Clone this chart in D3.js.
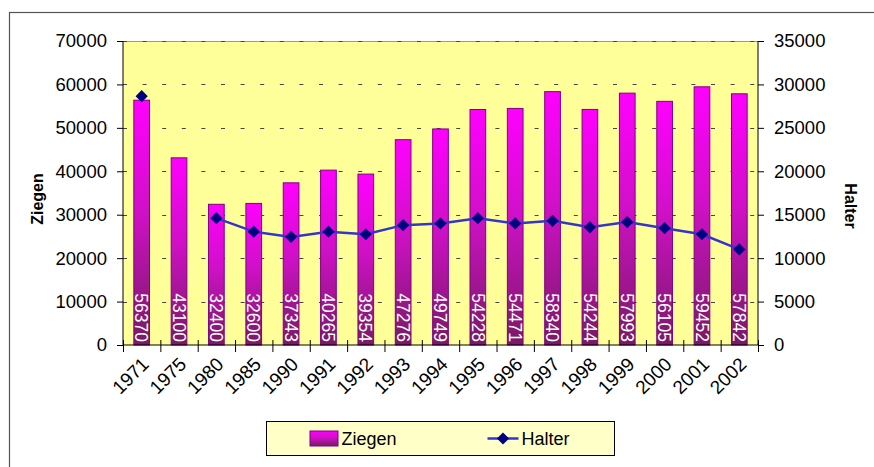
<!DOCTYPE html>
<html>
<head>
<meta charset="utf-8">
<script src="https://cdn.jsdelivr.net/npm/d3@7"></script>
<style>
  body { margin: 0; background: #fff; }
  svg { font-family: "Liberation Sans", Arial, sans-serif; }
</style>
</head>
<body>
<div id="chart"></div>
<script>
// chart data
const years = ["1971", "1975", "1980", "1985", "1990", "1991", "1992", "1993", "1994",
               "1995", "1996", "1997", "1998", "1999", "2000", "2001", "2002"];
const ziegen = [56370, 43100, 32400, 32600, 37343, 40265, 39354, 47276, 49749,
                54228, 54471, 58340, 54244, 57993, 56105, 59452, 57842];
// null = no value for that year
const halter = [28650, null, 14600, 13050, 12450, 13050, 12750, 13800, 14000,
                14600, 14000, 14300, 13550, 14150, 13450, 12750, 11000];
const leftTicks = [0, 10000, 20000, 30000, 40000, 50000, 60000, 70000];
const rightTicks = [0, 5000, 10000, 15000, 20000, 25000, 30000, 35000];

const W = 874, H = 467;
const margin = {top: 41, right: 116, bottom: 122, left: 123};
const width = W - margin.left - margin.right;
const height = H - margin.top - margin.bottom;

const svg = d3.select("#chart").append("svg")
    .attr("width", W)
    .attr("height", H);

const defs = svg.append("defs");
const grad = defs.append("linearGradient")
    .attr("id", "barGrad")
    .attr("x1", 0).attr("y1", 0).attr("x2", 0).attr("y2", 1);
grad.append("stop").attr("offset", "0%").attr("stop-color", "#ff00ff");
grad.append("stop").attr("offset", "45%").attr("stop-color", "#d010c8");
grad.append("stop").attr("offset", "100%").attr("stop-color", "#781a64");

// outer frame (open to right/bottom like the original crop)
svg.append("rect")
    .attr("x", 9.5).attr("y", 12.5)
    .attr("width", 900).attr("height", 500)
    .attr("fill", "none")
    .attr("stroke", "#555")
    .attr("stroke-width", 1.2);

const chart = svg.append("g")
    .attr("transform", `translate(${margin.left},${margin.top})`);

const x = d3.scaleBand()
    .domain(years)
    .range([0, width])
    .paddingInner(0.58)
    .paddingOuter(0.29);

const xEdge = d3.scaleLinear()
    .domain([0, years.length])
    .range([0, width]);

const yL = d3.scaleLinear().domain([0, 70000]).range([height, 0]);
const yR = d3.scaleLinear().domain([0, 35000]).range([height, 0]);

// plot background
chart.append("rect")
    .attr("width", width)
    .attr("height", height)
    .attr("fill", "#ffff99");

chart.append("line")
    .attr("x1", 0).attr("x2", width)
    .attr("y1", 0.5).attr("y2", 0.5)
    .attr("stroke", "#999");

// dashed grid
chart.append("g")
    .selectAll("line")
    .data(leftTicks.filter(d => d > 0))
    .join("line")
        .attr("x1", 0).attr("x2", width)
        .attr("y1", d => Math.round(yL(d)) + 0.5)
        .attr("y2", d => Math.round(yL(d)) + 0.5)
        .attr("stroke", "#444")
        .attr("stroke-dasharray", "4,15.6");

// bars
const cx = d => x(d) + x.bandwidth() / 2;
chart.append("g")
    .selectAll("rect")
    .data(years)
    .join("rect")
        .attr("x", d => x(d))
        .attr("y", (d, i) => yL(ziegen[i]))
        .attr("width", x.bandwidth())
        .attr("height", (d, i) => height - yL(ziegen[i]))
        .attr("fill", "url(#barGrad)")
        .attr("stroke", "#800080")
        .attr("stroke-width", 1);

// labels inside bars
chart.append("g")
    .selectAll("text")
    .data(years)
    .join("text")
        .attr("transform", d => `translate(${cx(d)},${height - 3}) rotate(90)`)
        .attr("dy", "0.36em")
        .attr("text-anchor", "end")
        .attr("fill", "#fff")
        .style("font-size", "17.5px")
        .text((d, i) => ziegen[i]);

// Halter line
const pts = years.map((d, i) => ({year: d, v: halter[i]}));
const line = d3.line()
    .defined(d => d.v != null)
    .x(d => cx(d.year))
    .y(d => yR(d.v));

chart.append("path")
    .datum(pts)
    .attr("d", line)
    .attr("fill", "none")
    .attr("stroke", "#3535cc")
    .attr("stroke-width", 2.5);

chart.append("g")
    .selectAll("path")
    .data(pts.filter(d => d.v != null))
    .join("path")
        .attr("transform", d => `translate(${cx(d.year)},${yR(d.v)})`)
        .attr("d", d3.symbol(d3.symbolDiamond2, 95))
        .attr("fill", "#000080");

// axes
const yAxisL = d3.axisLeft(yL).tickValues(leftTicks).tickSize(6).tickPadding(10)
    .tickFormat(d3.format("d"));
const yAxisR = d3.axisRight(yR).tickValues(rightTicks).tickSize(6).tickPadding(10)
    .tickFormat(d3.format("d"));
const xAxis = d3.axisBottom(xEdge).tickValues(d3.range(years.length + 1))
    .tickSize(7).tickFormat("");

const gL = chart.append("g").attr("class", "axis").call(yAxisL);
const gR = chart.append("g").attr("class", "axis")
    .attr("transform", `translate(${width},0)`).call(yAxisR);
const gX = chart.append("g").attr("class", "axis")
    .attr("transform", `translate(0,${height})`).call(xAxis);
gX.selectAll(".tick line").attr("y1", -5);

[gL, gR, gX].forEach(g => {
    g.select(".domain").attr("stroke", "#000");
    g.selectAll(".tick line").attr("stroke", "#000");
    g.selectAll("text")
        .attr("fill", "#000")
        .style("font-family", "'Liberation Sans', Arial, sans-serif")
        .style("font-size", "18.5px");
});
gL.select(".domain").attr("d", `M0,0V${height}`);
gR.select(".domain").attr("d", `M0,0V${height}`);
gX.select(".domain").attr("d", `M0,0H${width}`);

// x labels, rotated
chart.append("g")
    .selectAll("text")
    .data(years)
    .join("text")
        .attr("transform", d => `translate(${cx(d) - 1},${height + 11}) rotate(-45)`)
        .attr("text-anchor", "end")
        .attr("dy", "0.7em")
        .style("font-size", "19px")
        .text(d => d);

// axis titles
svg.append("text")
    .attr("transform", "translate(43,199) rotate(-90)")
    .attr("text-anchor", "middle")
    .style("font-size", "16px")
    .style("font-weight", "bold")
    .text("Ziegen");

svg.append("text")
    .attr("transform", "translate(845,206) rotate(90)")
    .attr("text-anchor", "middle")
    .style("font-size", "16px")
    .style("font-weight", "bold")
    .text("Halter");

// legend
const legend = svg.append("g").attr("transform", "translate(266.5,421.5)");
legend.append("rect")
    .attr("width", 348).attr("height", 34)
    .attr("fill", "#ffffc8")
    .attr("stroke", "#000");
legend.append("rect")
    .attr("x", 43.5).attr("y", 9.5)
    .attr("width", 28).attr("height", 15)
    .attr("fill", "url(#barGrad)")
    .attr("stroke", "#800080");
legend.append("text")
    .attr("x", 75).attr("y", 17)
    .attr("dy", "0.35em")
    .style("font-size", "18px")
    .text("Ziegen");
legend.append("line")
    .attr("x1", 221).attr("x2", 252)
    .attr("y1", 17).attr("y2", 17)
    .attr("stroke", "#3535cc")
    .attr("stroke-width", 2.5);
legend.append("path")
    .attr("transform", "translate(236.5,17)")
    .attr("d", d3.symbol(d3.symbolDiamond2, 95))
    .attr("fill", "#000080");
legend.append("text")
    .attr("x", 255).attr("y", 17)
    .attr("dy", "0.35em")
    .style("font-size", "18px")
    .text("Halter");
</script>
</body>
</html>
